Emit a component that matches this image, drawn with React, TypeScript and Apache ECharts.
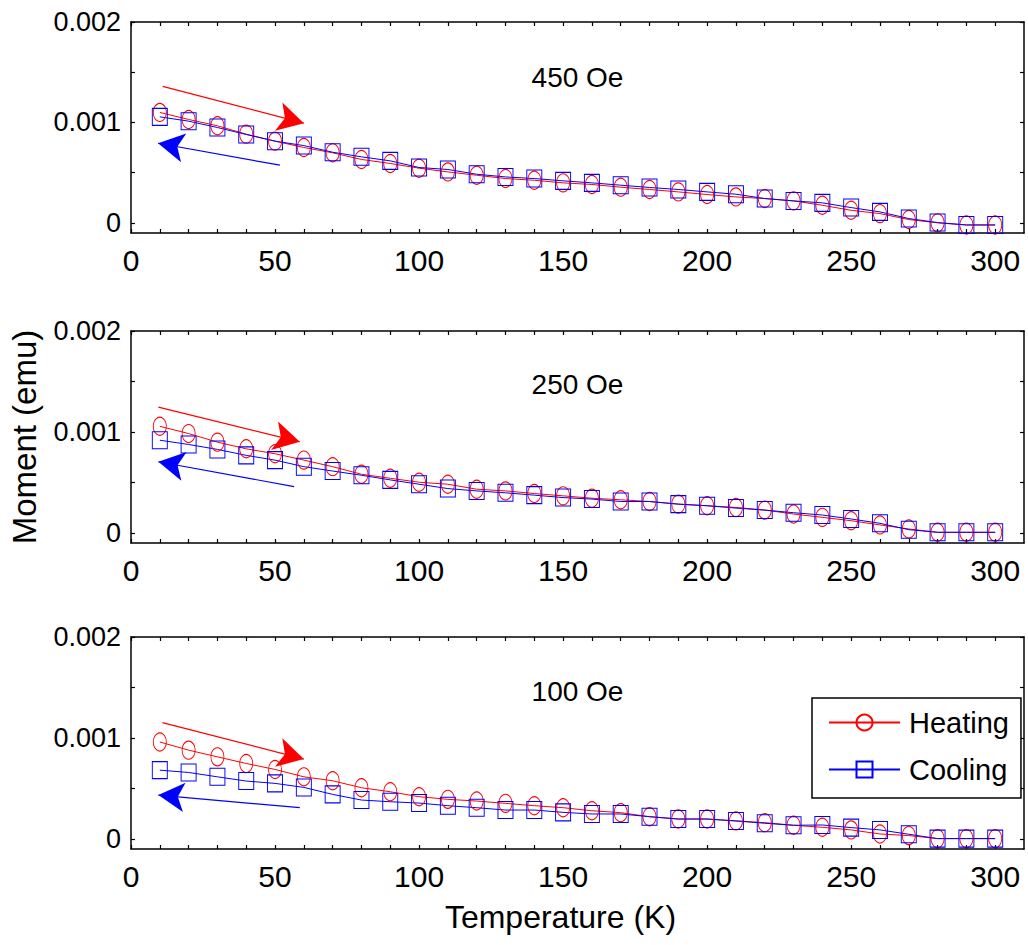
import React, { useEffect, useRef } from 'react';
import * as echarts from 'echarts';

const temperatures = [10, 20, 30, 40, 50, 60, 70, 80, 90, 100, 110, 120, 130, 140, 150, 160, 170, 180, 190, 200, 210, 220, 230, 240, 250, 260, 270, 280, 290, 300];
const xTickLabels = [0, 50, 100, 150, 200, 250, 300];
const xTickMarks = [0, 10, 20, 30, 40, 50, 60, 70, 80, 90, 100, 110, 120, 130, 140, 150, 160, 170, 180, 190, 200, 210, 220, 230, 240, 250, 260, 270, 280, 290, 300];
const yTickLabels = [0, 0.001, 0.002];
const yTickMarks = [0, 0.0005, 0.001, 0.0015, 0.002];
const fieldLabels = ['450 Oe', '250 Oe', '100 Oe'];

const heating450 = [0.00110, 0.00103, 0.000967, 0.000884, 0.000814, 0.000751, 0.000698, 0.000632, 0.000592, 0.000545, 0.000508, 0.000475, 0.000442, 0.000425, 0.000399, 0.000383, 0.000356, 0.000333, 0.000309, 0.000283, 0.000259, 0.000243, 0.000220, 0.000176, 0.000126, 0.000093, 0.000034, 0.000001, -0.00002, -0.00002];
const cooling450 = [0.001056, 0.001013, 0.00095, 0.00088, 0.000814, 0.00077, 0.000704, 0.000658, 0.000618, 0.000552, 0.000532, 0.000485, 0.000458, 0.000442, 0.000419, 0.000399, 0.000376, 0.000353, 0.000333, 0.000309, 0.000286, 0.000243, 0.000219, 0.0002, 0.000153, 0.00011, 0.000044, 0.000004, -0.00002, -0.00002];

const heating250 = [0.001056, 0.000984, 0.000899, 0.000833, 0.000784, 0.000721, 0.000656, 0.000581, 0.000541, 0.000502, 0.000482, 0.000433, 0.000416, 0.00039, 0.000367, 0.000344, 0.000328, 0.000311, 0.000285, 0.000269, 0.000252, 0.000226, 0.000187, 0.000154, 0.000121, 0.000079, 0.000039, 0.000006, 0.000006, 0.000006];
const cooling250 = [0.000918, 0.000876, 0.000827, 0.000768, 0.000721, 0.000656, 0.000613, 0.000571, 0.000525, 0.000482, 0.000439, 0.000416, 0.000397, 0.000374, 0.00035, 0.000335, 0.000311, 0.000311, 0.000285, 0.000269, 0.000246, 0.000226, 0.0002, 0.000177, 0.000138, 0.000095, 0.000032, 0.000006, 0.000006, 0.000006];

const heating100 = [0.00096, 0.000879, 0.000813, 0.000747, 0.000688, 0.000615, 0.000576, 0.000507, 0.000467, 0.000418, 0.000392, 0.000375, 0.000352, 0.000329, 0.000309, 0.000279, 0.00026, 0.00022, 0.000197, 0.000197, 0.000178, 0.000161, 0.000135, 0.000115, 0.000089, 0.000049, 0.000033, 0.000003, 0.000003, 0.000003];
const cooling100 = [0.000681, 0.000658, 0.000615, 0.000573, 0.00055, 0.00051, 0.000441, 0.000385, 0.000368, 0.000355, 0.000329, 0.000309, 0.000286, 0.000286, 0.000263, 0.000247, 0.000247, 0.00022, 0.000197, 0.000197, 0.000178, 0.000155, 0.000135, 0.000138, 0.000112, 0.000089, 0.000046, 0.000003, 0.000003, 0.000003];

// arrow annotations [start, end] in data coordinates
const heatingArrows = [
  [[11, 0.00136], [60, 0.000993]],
  [[9.5, 0.001246], [58.6, 0.000902]],
  [[10.9, 0.001152], [60, 0.000791]],
];
const coolingArrows = [
  [[51.7, 0.000575], [9.4, 0.000793]],
  [[56.6, 0.000459], [9.5, 0.000705]],
  [[58.6, 0.000309], [9.5, 0.000434]],
];
const labelPositions = [[155, 0.00145], [155, 0.00147], [155, 0.00146]];

const heatingSets = [heating450, heating250, heating100];
const coolingSets = [cooling450, cooling250, cooling100];

const FONT = '"Liberation Sans", Arial, Helvetica, sans-serif';
const RED = '#ff0000';
const BLUE = '#0000ff';

const gridTops = [22, 331, 637];
const gridHeights = [211, 212, 212];

function buildOption() {
  const grid: any[] = [];
  const xAxis: any[] = [];
  const yAxis: any[] = [];
  const series: any[] = [];
  const axisLine = { show: true, onZero: false, lineStyle: { color: '#000', width: 1.5 } };
  const tick = (vals: number[]) => ({ show: true, inside: true, length: 4, customValues: vals, lineStyle: { color: '#000', width: 1.2 } });

  for (let i = 0; i < 3; i++) {
    grid.push({ left: 131, right: 4, top: gridTops[i], height: gridHeights[i], show: false });
    const xBottom: any = {
      gridIndex: i, type: 'value', min: 0, max: 310, position: 'bottom',
      axisLine, axisTick: tick(xTickMarks), splitLine: { show: false },
      axisLabel: { show: true, customValues: xTickLabels, fontSize: 30, color: '#000', margin: 12, fontFamily: FONT },
    };
    if (i === 2) {
      xBottom.name = 'Temperature (K)';
      xBottom.nameLocation = 'middle';
      xBottom.nameGap = 52;
      xBottom.nameTextStyle = { fontSize: 32, color: '#000', fontFamily: FONT, padding: [0, 34, 0, 0] };
    }
    xAxis.push(xBottom);
    xAxis.push({
      gridIndex: i, type: 'value', min: 0, max: 310, position: 'top',
      axisLine, axisTick: tick(xTickMarks), splitLine: { show: false }, axisLabel: { show: false },
    });
    const yLeft: any = {
      gridIndex: i, type: 'value', min: -0.0001, max: 0.002, position: 'left',
      axisLine, axisTick: tick(yTickMarks), splitLine: { show: false },
      axisLabel: {
        show: true, customValues: yTickLabels, fontSize: 27, color: '#000', margin: 10, fontFamily: FONT,
        formatter: (v: number) => (Math.abs(v) < 1e-9 ? '0' : v.toFixed(3)),
      },
    };
    if (i === 1) {
      yLeft.name = 'Moment (emu)';
      yLeft.nameLocation = 'middle';
      yLeft.nameGap = 90;
      yLeft.nameTextStyle = { fontSize: 33, color: '#000', fontFamily: FONT };
    }
    yAxis.push(yLeft);
    yAxis.push({
      gridIndex: i, type: 'value', min: -0.0001, max: 0.002, position: 'right',
      axisLine, axisTick: tick(yTickMarks), splitLine: { show: false }, axisLabel: { show: false },
    });

    const arrowLine = (color: string, arrow: number[][]) => ({
      silent: true,
      symbol: ['none', 'arrow'],
      label: { show: false },
      emphasis: { disabled: true },
      itemStyle: { color },
      lineStyle: { type: 'solid', color, width: 1.2 },
      data: [[
        { coord: arrow[0], symbol: 'none', symbolSize: 1, itemStyle: { color } },
        { coord: arrow[1], symbol: 'arrow', symbolSize: [22, 26], itemStyle: { color } },
      ]],
    });

    series.push({
      type: 'line', name: 'Heating', xAxisIndex: i * 2, yAxisIndex: i * 2,
      data: temperatures.map((t, k) => [t, heatingSets[i][k]]),
      symbol: 'circle', symbolSize: [13, 18],
      itemStyle: { color: 'rgba(255,255,255,0)', borderColor: RED, borderWidth: 1 },
      lineStyle: { color: RED, width: 1 },
      emphasis: { disabled: true },
      markLine: arrowLine(RED, heatingArrows[i]),
      markPoint: {
        silent: true,
        symbol: 'rect', symbolSize: 1,
        itemStyle: { color: 'rgba(0,0,0,0)' },
        label: { show: true, position: 'inside', formatter: fieldLabels[i], fontSize: 28, color: '#000', fontFamily: FONT },
        data: [{ coord: labelPositions[i] }],
      },
    });
    series.push({
      type: 'line', name: 'Cooling', xAxisIndex: i * 2, yAxisIndex: i * 2,
      data: temperatures.map((t, k) => [t, coolingSets[i][k]]),
      symbol: 'rect', symbolSize: [15, 17],
      itemStyle: { color: 'rgba(255,255,255,0)', borderColor: BLUE, borderWidth: 1 },
      lineStyle: { color: BLUE, width: 1 },
      emphasis: { disabled: true },
      markLine: arrowLine(BLUE, coolingArrows[i]),
    });
  }

  return {
    animation: false,
    backgroundColor: '#fff',
    textStyle: { fontFamily: FONT },
    grid, xAxis, yAxis, series,
    legend: {
      data: ['Heating', 'Cooling'],
      orient: 'vertical',
      left: 812, top: 698,
      padding: [10, 12, 14, 16],
      itemGap: 18,
      itemWidth: 71, itemHeight: 20,
      borderColor: '#000', borderWidth: 1.5,
      backgroundColor: '#fff',
      selectedMode: false,
      textStyle: { fontSize: 29, color: '#000', fontFamily: FONT, padding: [0, 0, 0, 4] },
    },
  };
}

export default function App() {
  const ref = useRef<HTMLDivElement>(null);
  useEffect(() => {
    if (!ref.current) return;
    const chart = echarts.init(ref.current, undefined, { renderer: 'svg' });
    chart.setOption(buildOption() as any);
    return () => chart.dispose();
  }, []);
  return <div ref={ref} style={{ position: 'absolute', left: 0, top: 0, width: 1028, height: 945 }} />;
}
